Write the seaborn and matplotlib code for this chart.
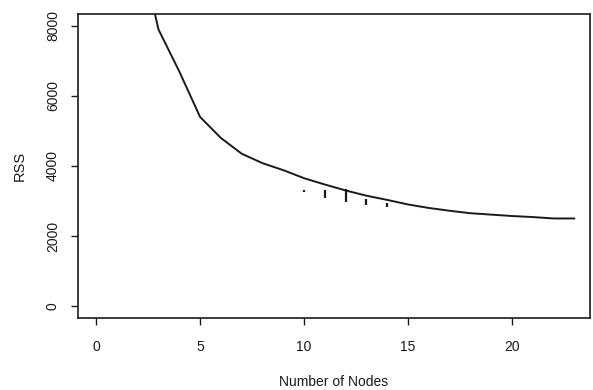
import numpy as np
import pandas as pd
import matplotlib
matplotlib.use('Agg')
import matplotlib.pyplot as plt
import seaborn as sns

# 数据：节点数与 RSS
nodes = [2, 3, 4, 5, 6, 7, 8, 9, 10, 11, 12, 13, 14, 15, 16, 17, 18, 19, 20, 21, 22, 23]
rss = [10500, 7900, 6700, 5400, 4800, 4350, 4080, 3880, 3650, 3470, 3300, 3150, 3030,
       2900, 2800, 2720, 2650, 2610, 2570, 2540, 2500, 2500]

# 小竖线标记（节点, 下端, 上端）
mark_nodes = [10, 11, 12, 13, 14]
mark_low = [3270, 3090, 2970, 2890, 2830]
mark_high = [3300, 3310, 3330, 3060, 2940]

x_ticks = [0, 5, 10, 15, 20]
y_ticks = [0, 2000, 4000, 6000, 8000]

sns.set_theme(style='ticks')
plt.rcParams['font.family'] = ['Liberation Sans', 'DejaVu Sans']

df = pd.DataFrame({'nodes': nodes, 'rss': rss})

fig = plt.figure(figsize=(5.93, 3.9), dpi=100)
ax = fig.add_axes([0.1315, 0.1846, 0.8635, 0.7795])

sns.lineplot(data=df, x='nodes', y='rss', ax=ax, color='#1a1a1a', linewidth=1.4)
ax.vlines(mark_nodes, mark_low, mark_high, color='#1a1a1a', linewidth=1.6)

ax.set_xlim(-0.87, 23.75)
ax.set_ylim(-343, 8340)
ax.set_xticks(x_ticks)
ax.set_yticks(y_ticks)
ax.set_yticklabels([str(v) for v in y_ticks], rotation=90, va='center')

for s in ax.spines.values():
    s.set_visible(True)
    s.set_color('#1a1a1a')
    s.set_linewidth(1.2)

ax.tick_params(axis='both', direction='out', length=5, width=1, color='#1a1a1a',
               labelsize=10, labelcolor='#1a1a1a')
ax.tick_params(axis='x', pad=11)
ax.tick_params(axis='y', pad=8)

ax.set_xlabel('Number of Nodes', fontsize=10, color='#1a1a1a', labelpad=15)
ax.set_ylabel('RSS', fontsize=10.5, color='#1a1a1a', labelpad=14)

fig.savefig('out.png', dpi=100)
